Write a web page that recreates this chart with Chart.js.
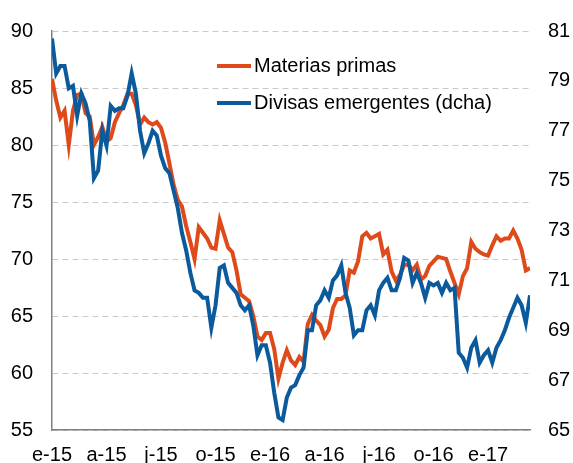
<!DOCTYPE html>
<html>
<head>
<meta charset="utf-8">
<script src="https://cdn.jsdelivr.net/npm/chart.js@4"></script>
<style>
    html, body { margin: 0; padding: 0; background: #fff; }
</style>
</head>
<body>
<canvas id="chart" width="573" height="463"></canvas>
<script>
// etiquetas trimestrales del eje X (una cada 13 semanas)
const tickLabels = ['e-15', 'a-15', 'j-15', 'o-15', 'e-16', 'a-16', 'j-16', 'o-16', 'e-17'];
const weeksPerTick = 13;

// datos semanales, enero 2015 - marzo 2017
const materiasPrimas = [
    85.8, 83.9, 82.4, 83.0, 80.0, 83.0, 84.4, 84.5, 82.8, 82.5,
    80.0, 80.7, 81.6, 80.3, 80.6, 82.0, 82.8, 83.5, 84.5, 84.5,
    83.5, 81.8, 82.4, 82.0, 81.8, 82.0, 81.5, 80.2, 78.4, 76.5,
    75.2, 74.6, 72.9, 71.5, 70.0, 72.8, 72.3, 71.8, 71.0, 70.9,
    73.4, 72.2, 71.0, 70.6, 69.0, 66.9, 66.6, 66.3, 65.0, 63.2,
    62.9, 63.5, 63.5, 62.1, 59.5, 60.9, 62.0, 61.1, 60.7, 61.4,
    61.0, 64.3, 65.1, 64.6, 64.2, 63.2, 63.8, 65.7, 66.5, 66.5,
    66.8, 69.0, 68.8, 69.8, 72.0, 72.3, 71.8, 72.0, 72.2, 70.4,
    70.8, 68.9, 68.1, 68.6, 69.5, 69.5, 69.0, 69.5, 68.2, 68.5,
    69.4, 69.8, 70.2, 70.1, 70.0, 68.9, 67.9, 66.9, 68.5, 69.2,
    71.5, 70.9, 70.6, 70.4, 70.3, 71.2, 72.0, 71.6, 71.8, 71.8,
    72.5, 71.8, 70.8, 69.0, 69.2
];

// eje derecho
const divisasEmergentes = [
    80.7, 79.3, 79.6, 79.6, 78.7, 78.8, 77.6, 78.5, 78.1, 77.4,
    75.1, 75.4, 77.0, 76.4, 78.0, 77.8, 77.9, 77.9, 78.4, 79.3,
    78.5, 77.0, 76.1, 76.5, 77.0, 76.8, 76.0, 75.5, 75.3, 74.6,
    73.9, 72.9, 72.2, 71.3, 70.6, 70.5, 70.3, 70.3, 69.1, 70.0,
    71.5, 71.6, 70.9, 70.7, 70.5, 70.0, 69.8, 70.0, 69.2, 68.0,
    68.4, 68.4, 67.7, 66.5, 65.5, 65.4, 66.3, 66.7, 66.8, 67.2,
    67.5, 69.0, 69.0, 70.0, 70.2, 70.6, 70.3, 71.0, 71.2, 71.6,
    70.5, 69.9, 68.8, 69.0, 69.0, 69.8, 70.0, 69.6, 70.6, 70.9,
    71.1, 70.6, 70.6, 71.1, 71.9, 71.8, 70.9, 71.3, 70.9, 70.3,
    70.9, 70.8, 70.9, 70.5, 70.9, 70.6, 70.7, 68.1, 67.9, 67.5,
    68.3, 68.6, 67.7, 68.0, 68.2, 67.7, 68.3, 68.6, 69.0, 69.5,
    69.9, 70.3, 70.0, 69.3, 70.4
];

const ORANGE = '#df4a1a';
const BLUE = '#0b5a9c';
const FONT = "'Liberation Sans', Arial, sans-serif";

// leyenda dentro del área del gráfico
const insideLegend = {
    id: 'insideLegend',
    afterDraw(chart) {
        const ctx = chart.ctx;
        const rows = [66, 103];
        ctx.save();
        chart.data.datasets.forEach((ds, i) => {
            const y = rows[i];
            ctx.strokeStyle = ds.borderColor;
            ctx.lineWidth = 4;
            ctx.beginPath();
            ctx.moveTo(217, y);
            ctx.lineTo(251, y);
            ctx.stroke();
            ctx.fillStyle = '#000';
            ctx.font = '20px ' + FONT;
            ctx.textBaseline = 'middle';
            ctx.fillText(ds.label, 254, y);
        });
        ctx.restore();
    }
};

const ctx = document.getElementById('chart').getContext('2d');
new Chart(ctx, {
    type: 'line',
    data: {
        datasets: [
            {
                label: 'Materias primas',
                data: materiasPrimas.map((v, i) => ({ x: i, y: v })),
                borderColor: ORANGE,
                borderWidth: 4,
                pointRadius: 0,
                tension: 0,
                yAxisID: 'y',
                order: 1
            },
            {
                label: 'Divisas emergentes (dcha)',
                data: divisasEmergentes.map((v, i) => ({ x: i, y: v })),
                borderColor: BLUE,
                borderWidth: 4,
                pointRadius: 0,
                tension: 0,
                yAxisID: 'y1',
                order: 0
            }
        ]
    },
    options: {
        responsive: false,
        animation: false,
        layout: { padding: { top: 27, left: 0, right: 0, bottom: 0 } },
        plugins: {
            legend: { display: false },
            tooltip: { enabled: false }
        },
        scales: {
            x: {
                type: 'linear',
                min: 0,
                max: materiasPrimas.length - 1,
                grid: { display: false, drawTicks: false },
                border: { display: true, color: '#808080', width: 1.5 },
                afterBuildTicks: axis => {
                    axis.ticks = tickLabels.map((_, i) => ({ value: i * weeksPerTick }));
                },
                ticks: {
                    autoSkip: false,
                    maxRotation: 0,
                    padding: 13,
                    color: '#000',
                    font: { family: FONT, size: 20 },
                    callback: v => tickLabels[Math.round(v / weeksPerTick)] ?? ''
                },
                afterFit: s => { s.height = 33; }
            },
            y: {
                position: 'left',
                min: 55,
                max: 90,
                grid: { color: '#c8c8c8', lineWidth: 1, drawTicks: false },
                border: { display: true, color: '#808080', width: 1.5, dash: [6, 4] },
                ticks: {
                    stepSize: 5,
                    padding: 19,
                    color: '#000',
                    font: { family: FONT, size: 20 }
                },
                afterFit: s => { s.width = 52; }
            },
            y1: {
                position: 'right',
                min: 65,
                max: 81,
                grid: { display: false, drawTicks: false },
                border: { display: false },
                ticks: {
                    stepSize: 2,
                    padding: 18,
                    color: '#000',
                    font: { family: FONT, size: 20 }
                },
                afterFit: s => { s.width = 43; }
            }
        }
    },
    plugins: [insideLegend]
});
</script>
</body>
</html>
